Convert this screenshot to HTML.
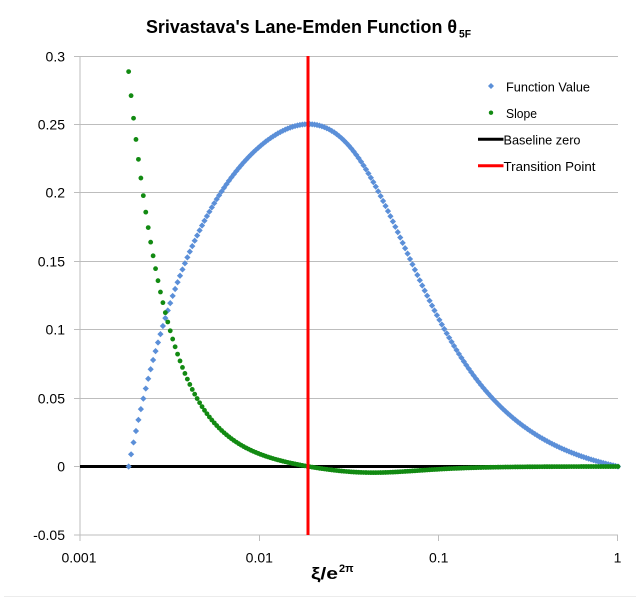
<!DOCTYPE html>
<html>
<head>
<meta charset="utf-8">
<style>
html,body{margin:0;padding:0;background:#fff;}
svg{display:block;}
text{font-family:"Liberation Sans", sans-serif;}
</style>
</head>
<body>
<svg id="chart" width="644" height="600" viewBox="0 0 644 600" xmlns="http://www.w3.org/2000/svg">
<rect x="0" y="0" width="644" height="600" fill="#fff"/>
<line x1="4" y1="596.5" x2="636" y2="596.5" stroke="#ececec" stroke-width="1"/>
<!-- title -->
<text x="146" y="33" font-size="18" font-weight="bold" fill="#000" textLength="311" lengthAdjust="spacingAndGlyphs">Srivastava's Lane-Emden Function θ</text>
<text x="459" y="37.3" font-size="11" font-weight="bold" fill="#000" textLength="12" lengthAdjust="spacingAndGlyphs">5F</text>
<!-- gridlines -->
<g stroke="#bdbdbd" stroke-width="1" shape-rendering="crispEdges">
<line x1="80" y1="56.5" x2="618" y2="56.5"/>
<line x1="80" y1="124.5" x2="618" y2="124.5"/>
<line x1="80" y1="192.5" x2="618" y2="192.5"/>
<line x1="80" y1="261.5" x2="618" y2="261.5"/>
<line x1="80" y1="329.5" x2="618" y2="329.5"/>
<line x1="80" y1="398.5" x2="618" y2="398.5"/>
<line x1="80" y1="535" x2="618" y2="535"/>
<line x1="80" y1="56" x2="80" y2="535"/>
<!-- y ticks -->
<line x1="74" y1="56.5" x2="80" y2="56.5"/>
<line x1="74" y1="124.5" x2="80" y2="124.5"/>
<line x1="74" y1="192.5" x2="80" y2="192.5"/>
<line x1="74" y1="261.5" x2="80" y2="261.5"/>
<line x1="74" y1="329.5" x2="80" y2="329.5"/>
<line x1="74" y1="398.5" x2="80" y2="398.5"/>
<line x1="74" y1="466.5" x2="80" y2="466.5"/>
<line x1="74" y1="535" x2="80" y2="535"/>
<!-- x ticks -->
<line x1="80" y1="535" x2="80" y2="541"/>
<line x1="259.3" y1="535" x2="259.3" y2="541"/>
<line x1="438.7" y1="535" x2="438.7" y2="541"/>
<line x1="617.5" y1="535" x2="617.5" y2="541"/>
</g>
<!-- y labels -->
<g font-size="14" fill="#000" text-anchor="end">
<text x="65" y="61.5">0.3</text>
<text x="65" y="129.5">0.25</text>
<text x="65" y="197.5">0.2</text>
<text x="65" y="266.5">0.15</text>
<text x="65" y="334.5">0.1</text>
<text x="65" y="403.5">0.05</text>
<text x="65" y="471.5">0</text>
<text x="65" y="540">-0.05</text>
</g>
<!-- x labels -->
<g font-size="14" fill="#000" text-anchor="middle">
<text x="79" y="562.5">0.001</text>
<text x="259.3" y="562.5">0.01</text>
<text x="438.7" y="562.5">0.1</text>
<text x="617.5" y="562.5">1</text>
</g>
<!-- x axis title -->
<text x="311" y="579" font-size="17" font-weight="bold" fill="#000" textLength="27" lengthAdjust="spacingAndGlyphs">ξ/e</text>
<text x="339" y="572" font-size="11" font-weight="bold" fill="#000">2π</text>
<!-- baseline zero -->
<line x1="80" y1="466.5" x2="618" y2="466.5" stroke="#000" stroke-width="3"/>
<!-- series -->
<g id="blue" fill="#5b8fd8"></g>
<g id="green" fill="#128a12"></g>
<!-- transition point -->
<line x1="308" y1="56" x2="308" y2="535" stroke="#ff0000" stroke-width="3"/>
<!-- legend -->
<polygon points="491,83 494,86 491,89 488,86" fill="#5b8fd8"/>
<text x="506" y="91.5" font-size="12.5" fill="#000" textLength="84" lengthAdjust="spacingAndGlyphs">Function Value</text>
<circle cx="491" cy="112.7" r="2.2" fill="#128a12"/>
<text x="506" y="118" font-size="12.5" fill="#000" textLength="31" lengthAdjust="spacingAndGlyphs">Slope</text>
<line x1="478" y1="139.3" x2="503.5" y2="139.3" stroke="#000" stroke-width="3"/>
<text x="503.5" y="144.5" font-size="12.5" fill="#000" textLength="77" lengthAdjust="spacingAndGlyphs">Baseline zero</text>
<line x1="478" y1="165.8" x2="503.5" y2="165.8" stroke="#ff0000" stroke-width="3"/>
<text x="503.5" y="171" font-size="12.5" fill="#000" textLength="92" lengthAdjust="spacingAndGlyphs">Transition Point</text>
</svg>
<script>
(function(){
  var blue=document.getElementById("blue");
  var green=document.getElementById("green");
  var TWO_PI=2*Math.PI, LN10=Math.log(10);
  function px(t){return 80+((t-TWO_PI)/LN10+3)*179.33;}
  function py(v){return 466.5-v*1368;}
  var bs="", gs="", h=3.1;
  for(var k=0;k<=200;k++){
    var t=k*Math.PI/100;
    var s=Math.sin(t/2), c=Math.cos(t/2);
    var d=3-2*s*s;
    var g=s/Math.sqrt(d);
    var gp=1.5*c/Math.pow(d,1.5);
    var th=Math.exp(-t/2)*g;
    var slope=Math.exp(-t)*Math.exp(-t/2)*(gp-g/2);
    var x=px(t), yb=py(th), yg=py(slope);
    bs+='<polygon points="'+x.toFixed(2)+','+(yb-h).toFixed(2)+' '+(x+h).toFixed(2)+','+yb.toFixed(2)+' '+x.toFixed(2)+','+(yb+h).toFixed(2)+' '+(x-h).toFixed(2)+','+yb.toFixed(2)+'"/>';
    gs+='<circle cx="'+x.toFixed(2)+'" cy="'+yg.toFixed(2)+'" r="2.4"/>';
  }
  blue.innerHTML=bs;
  green.innerHTML=gs;
})();
</script>
</body>
</html>
